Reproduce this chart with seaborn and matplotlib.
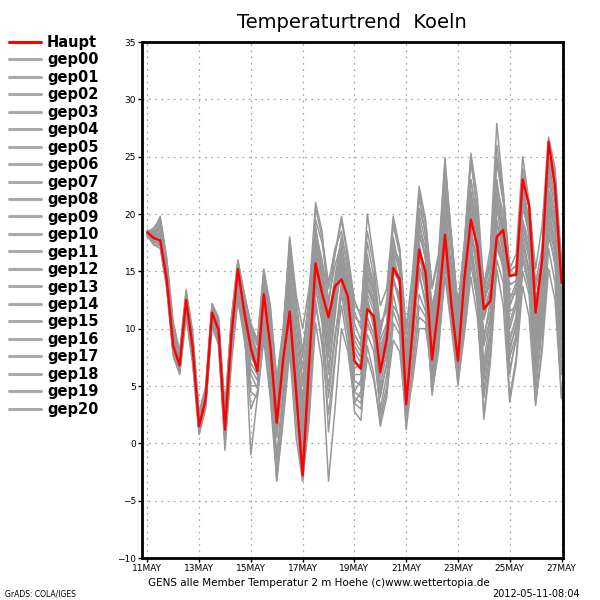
import numpy as np
import pandas as pd
import matplotlib
matplotlib.use("Agg")
import matplotlib.pyplot as plt
from matplotlib.lines import Line2D
import seaborn as sns

# ========== data: 6-hourly steps from 11MAY 00Z to 27MAY 00Z ==========
steps = np.arange(65) * 0.25

haupt = [18.4, 17.9, 17.7, 14.3, 8.5, 6.8, 12.5, 8.4, 1.5, 3.8,
         11.4, 9.9, 1.2, 9.4, 15.2, 11.4, 8.3, 6.3, 13.0, 8.5,
         1.8, 7.3, 11.5, 4.5, -2.8, 6.9, 15.7, 13.1, 11.0, 13.7,
         14.3, 12.8, 7.2, 6.5, 11.7, 11.1, 6.2, 9.1, 15.3, 14.3,
         3.4, 9.9, 16.9, 14.9, 7.3, 12.0, 18.2, 12.0, 7.2, 14.4,
         19.5, 17.2, 11.7, 12.4, 18.0, 18.6, 14.6, 14.7, 23.0, 20.7,
         11.4, 16.0, 26.3, 22.4, 14.0]

gep00 = [18.3, 18.0, 18.2, 14.6, 8.8, 6.9, 12.3, 8.6, 1.8, 4.0,
         11.2, 9.8, 1.5, 9.0, 14.8, 11.0, 7.9, 6.5, 12.8, 8.2,
         2.4, 7.0, 12.0, 5.2, -1.5, 7.5, 16.3, 13.5, 10.2, 13.0,
         15.0, 12.1, 6.5, 7.0, 12.5, 10.5, 5.8, 9.5, 16.0, 13.8,
         4.0, 10.5, 17.5, 14.2, 6.8, 12.5, 19.0, 12.8, 6.5, 13.8,
         20.2, 16.5, 10.8, 13.0, 19.0, 17.9, 13.8, 14.2, 22.0, 19.5,
         10.5, 15.2, 24.8, 21.0, 13.2]
gep01 = [18.2, 18.4, 19.0, 15.2, 9.6, 7.2, 12.9, 9.0, 2.2, 4.4,
         11.8, 10.3, 2.0, 10.2, 15.8, 12.5, 9.5, 7.5, 14.5, 10.8,
         4.5, 9.0, 15.5, 9.5, 5.0, 10.5, 18.5, 16.0, 12.5, 15.5,
         17.5, 13.0, 8.5, 7.5, 14.0, 12.0, 7.0, 10.5, 17.5, 15.5,
         6.5, 11.5, 19.5, 16.0, 9.5, 13.5, 21.0, 15.0, 9.0, 14.5,
         21.5, 18.5, 12.5, 14.0, 22.5, 20.0, 12.0, 13.5, 21.0, 18.0,
         9.5, 14.5, 23.0, 19.5, 11.0]
gep02 = [18.5, 17.6, 17.3, 13.8, 8.0, 6.3, 11.6, 7.8, 1.0, 3.4,
         10.8, 9.2, 0.2, 7.8, 13.2, 9.5, 3.0, 4.5, 10.5, 5.5,
         -1.5, 4.0, 8.5, 2.0, -3.2, 3.5, 12.0, 9.0, 5.0, 9.5,
         13.0, 9.5, 4.0, 3.5, 9.5, 8.0, 3.0, 6.0, 11.5, 10.0,
         2.0, 7.5, 13.0, 11.5, 5.0, 9.0, 15.5, 10.5, 5.5, 10.0,
         16.0, 14.0, 6.5, 9.5, 17.0, 15.5, 8.0, 10.5, 18.5, 16.0,
         7.0, 11.0, 19.5, 17.0, 8.0]
gep03 = [18.4, 18.8, 19.6, 16.0, 10.4, 7.8, 13.2, 9.6, 2.6, 4.8,
         12.0, 10.8, 2.6, 10.6, 15.6, 13.0, 10.0, 8.5, 14.2, 11.5,
         5.2, 9.5, 17.8, 12.5, 8.0, 12.5, 19.5, 17.5, 13.5, 16.5,
         19.5, 16.0, 11.5, 10.0, 17.5, 14.5, 9.5, 12.5, 19.0, 16.5,
         8.5, 13.0, 21.5, 18.0, 11.5, 15.0, 23.5, 17.0, 10.5, 16.0,
         23.0, 19.0, 13.0, 16.0, 24.5, 21.0, 15.0, 15.5, 23.5, 20.5,
         14.0, 17.0, 25.0, 22.5, 15.5]
gep04 = [18.1, 17.5, 18.5, 14.0, 8.2, 6.5, 12.0, 8.0, 1.3, 3.6,
         11.0, 9.5, 1.0, 8.5, 14.0, 10.5, 6.5, 5.5, 11.5, 7.0,
         0.5, 5.5, 10.5, 3.5, -2.0, 5.0, 14.5, 12.0, 8.5, 12.5,
         16.5, 14.0, 9.0, 8.0, 15.5, 13.5, 8.0, 10.0, 18.0, 15.0,
         7.5, 10.0, 14.5, 12.5, 4.5, 8.0, 16.0, 13.0, 8.0, 12.0,
         18.0, 15.5, 9.5, 11.5, 20.5, 17.0, 9.0, 11.0, 19.0, 17.0,
         8.5, 13.0, 22.0, 20.0, 12.0]
gep05 = [18.6, 18.2, 18.8, 15.0, 9.2, 7.0, 12.6, 8.8, 1.6, 3.9,
         11.5, 10.0, 1.6, 9.6, 15.0, 11.8, 8.8, 6.8, 13.5, 9.5,
         3.0, 6.5, 13.0, 6.0, 0.5, 6.0, 15.0, 11.0, 4.0, 9.0,
         14.0, 10.0, 2.8, 2.0, 8.5, 6.0, 1.5, 4.0, 10.5, 9.5,
         1.2, 6.0, 12.0, 11.0, 6.5, 11.5, 17.5, 13.5, 8.5, 13.0,
         17.0, 12.0, 2.5, 7.5, 16.0, 14.0, 4.0, 7.5, 15.0, 13.0,
         3.5, 8.5, 17.0, 14.0, 4.0]
gep06 = [18.3, 17.8, 17.8, 14.5, 8.6, 6.6, 12.2, 8.2, 1.2, 3.5,
         11.6, 10.2, 2.2, 10.8, 15.9, 12.8, 9.8, 7.8, 14.8, 11.0,
         4.0, 8.5, 16.5, 11.0, 6.5, 11.5, 20.5, 18.0, 14.0, 17.0,
         18.5, 15.0, 10.5, 9.0, 16.5, 13.0, 7.5, 9.5, 14.5, 12.5,
         5.5, 9.0, 15.5, 13.5, 8.5, 14.0, 22.0, 16.5, 11.0, 17.0,
         24.5, 20.5, 12.5, 15.0, 25.0, 21.5, 15.0, 15.5, 21.5, 19.0,
         12.5, 15.5, 22.0, 19.0, 10.5]
gep07 = [18.2, 17.4, 17.2, 13.6, 7.8, 6.1, 11.2, 7.2, 0.8, 3.2,
         10.5, 9.0, 0.5, 8.2, 13.5, 10.0, 5.0, 5.0, 11.0, 6.0,
         -3.2, 2.5, 9.5, 3.0, -0.5, 4.5, 12.5, 8.5, 2.5, 7.5,
         12.0, 8.5, 4.5, 5.5, 13.0, 11.5, 5.0, 8.0, 15.0, 14.0,
         3.0, 8.5, 16.0, 15.0, 8.0, 13.0, 19.5, 14.0, 7.0, 13.5,
         19.0, 14.5, 7.0, 11.0, 19.5, 16.5, 8.5, 10.0, 17.0, 15.0,
         6.0, 12.0, 20.5, 17.5, 7.5]
gep08 = [18.5, 18.6, 19.4, 15.6, 10.0, 7.6, 13.0, 9.4, 2.4, 4.6,
         12.0, 10.6, 2.4, 10.4, 15.4, 13.0, 10.2, 8.8, 15.0, 12.0,
         5.5, 10.0, 18.0, 13.0, 10.0, 13.5, 19.0, 15.0, 9.5, 14.0,
         17.0, 14.5, 11.0, 10.5, 16.0, 14.0, 10.5, 11.5, 17.0, 15.0,
         8.0, 12.5, 20.0, 17.5, 12.0, 14.5, 21.5, 17.0, 12.0, 16.5,
         22.0, 18.5, 13.5, 15.5, 22.0, 18.5, 13.0, 13.0, 19.5, 17.5,
         12.0, 14.5, 21.0, 18.5, 13.0]
gep09 = [18.0, 17.7, 17.6, 14.2, 8.4, 6.4, 11.8, 7.6, 1.1, 3.3,
         10.9, 9.4, 0.8, 8.0, 12.8, 9.8, 7.0, 6.0, 12.0, 7.5,
         1.0, 6.0, 14.0, 8.0, 2.0, 8.0, 17.0, 14.0, 9.0, 12.0,
         15.5, 12.5, 5.5, 5.0, 12.0, 11.0, 6.5, 7.5, 13.0, 10.5,
         2.5, 7.0, 11.0, 10.5, 5.5, 10.5, 18.5, 15.5, 10.0, 15.0,
         21.0, 17.0, 11.0, 13.5, 21.0, 18.0, 11.5, 12.0, 20.5, 18.5,
         9.0, 14.0, 23.5, 20.5, 10.0]
gep10 = [18.4, 18.1, 18.4, 14.8, 9.0, 7.1, 12.8, 8.9, 1.9, 4.1,
         11.3, 9.7, 1.3, 9.2, 14.6, 11.2, 8.6, 6.2, 13.8, 9.0,
         2.8, 7.5, 12.5, 4.0, -3.0, 2.5, 13.5, 10.5, 1.0, 7.0,
         13.5, 11.5, 7.0, 6.5, 11.0, 9.5, 4.0, 7.0, 14.0, 13.0,
         3.5, 10.0, 18.0, 16.5, 10.5, 14.0, 20.0, 14.5, 6.0, 12.0,
         18.5, 16.0, 8.5, 11.0, 18.5, 16.0, 6.0, 9.5, 17.5, 14.5,
         5.0, 10.5, 18.5, 15.5, 6.5]
gep11 = [18.2, 17.9, 18.0, 14.4, 8.7, 6.7, 12.4, 8.3, 1.4, 3.7,
         11.4, 10.0, 1.8, 9.8, 15.3, 12.0, 9.0, 7.0, 14.0, 10.0,
         3.5, 8.0, 14.5, 7.0, 0.0, 7.0, 16.0, 12.5, 6.0, 11.0,
         16.0, 13.5, 8.0, 7.0, 14.5, 12.5, 6.0, 8.5, 16.5, 15.5,
         4.5, 11.0, 18.5, 16.0, 7.5, 11.0, 17.0, 12.5, 5.0, 11.0,
         16.5, 13.0, 4.5, 9.0, 19.0, 17.5, 10.5, 12.5, 21.0, 18.5,
         7.5, 12.5, 21.5, 18.5, 9.0]
gep12 = [18.5, 18.3, 19.2, 15.4, 9.8, 7.4, 13.1, 9.2, 2.1, 4.3,
         11.9, 10.5, 2.8, 10.9, 15.7, 12.2, 8.0, 7.2, 12.5, 8.5,
         1.5, 6.8, 13.5, 7.5, 3.5, 9.5, 18.0, 15.5, 11.0, 14.5,
         18.0, 15.5, 12.0, 11.5, 18.5, 15.5, 10.0, 12.0, 19.5, 17.0,
         9.5, 14.0, 22.0, 19.0, 13.5, 16.0, 24.5, 18.0, 12.0, 17.5,
         25.0, 20.0, 12.0, 14.5, 23.0, 19.0, 12.5, 14.0, 24.0, 21.0,
         11.0, 16.5, 26.0, 23.5, 14.5]
gep13 = [18.3, 17.6, 17.5, 14.0, 8.3, 6.2, 11.5, 7.4, 0.9, 3.1,
         10.6, 9.1, -0.6, 7.0, 12.5, 9.0, 4.5, 4.0, 9.5, 4.5,
         -2.5, 3.0, 10.0, 5.0, 1.5, 7.5, 15.5, 12.0, 6.5, 11.5,
         17.0, 12.0, 4.5, 4.0, 10.5, 9.0, 2.5, 5.0, 12.0, 11.0,
         4.5, 9.5, 17.0, 13.0, 4.2, 8.5, 14.5, 10.0, 5.2, 9.5,
         14.5, 11.0, 4.0, 8.0, 17.5, 15.5, 7.5, 9.5, 16.0, 13.5,
         4.5, 10.0, 18.0, 16.0, 6.0]
gep14 = [18.1, 17.3, 17.0, 13.5, 7.6, 6.0, 11.0, 7.0, 0.8, 3.0,
         10.2, 8.6, 0.0, 7.5, 13.0, 9.5, 6.0, 4.8, 10.0, 6.5,
         -1.0, 4.5, 11.0, 6.5, 2.5, 8.5, 16.5, 13.0, 8.0, 12.0,
         15.0, 11.0, 3.5, 4.5, 12.5, 10.0, 4.5, 7.0, 15.5, 14.5,
         6.0, 12.0, 20.5, 18.5, 11.0, 15.5, 24.0, 18.0, 11.5, 16.5,
         23.0, 19.5, 14.0, 16.0, 26.0, 22.0, 14.5, 15.0, 22.5, 19.5,
         13.5, 16.0, 24.0, 21.5, 14.5]
gep15 = [18.4, 18.5, 19.8, 16.2, 10.6, 8.0, 13.4, 9.8, 2.7, 4.9,
         12.2, 11.0, 3.0, 11.0, 16.0, 13.0, 10.5, 9.0, 15.2, 12.0,
         5.5, 10.0, 17.0, 12.0, 7.5, 13.0, 21.0, 18.5, 12.0, 16.5,
         19.8, 16.5, 12.5, 11.0, 20.0, 16.0, 12.0, 13.5, 19.8, 17.0,
         10.0, 15.0, 22.4, 19.5, 13.7, 16.5, 24.9, 17.5, 9.5, 14.0,
         20.0, 16.5, 9.0, 12.5, 21.5, 18.0, 10.0, 12.0, 19.0, 16.5,
         8.0, 13.0, 20.0, 17.5, 9.5]
gep16 = [18.2, 18.2, 18.6, 14.9, 9.4, 7.3, 12.7, 8.7, 1.7, 4.0,
         11.7, 10.4, 2.5, 10.0, 14.2, 10.8, 7.5, 6.6, 12.2, 8.0,
         2.0, 7.0, 12.8, 6.5, 1.0, 6.5, 14.0, 11.5, 7.5, 13.5,
         17.5, 14.0, 9.5, 8.5, 15.0, 13.0, 8.5, 10.0, 17.0, 16.0,
         7.0, 12.0, 19.0, 17.0, 10.0, 14.5, 22.5, 18.0, 11.5, 17.5,
         25.3, 21.5, 13.7, 17.0, 27.9, 22.0, 15.2, 16.5, 25.0, 21.0,
         15.2, 19.0, 26.7, 24.0, 16.0]
gep17 = [18.0, 17.8, 18.1, 14.1, 8.1, 6.6, 12.1, 8.1, 1.3, 3.5,
         11.1, 9.6, 1.1, 8.8, 14.4, 11.5, 8.5, 6.0, 12.6, 8.8,
         2.5, 7.8, 13.8, 8.5, 4.0, 9.0, 17.5, 14.5, 10.5, 14.0,
         16.0, 13.0, 8.5, 7.5, 14.5, 13.5, 9.0, 10.5, 16.5, 14.0,
         5.0, 9.5, 16.5, 14.0, 6.0, 10.0, 17.5, 13.0, 7.5, 12.5,
         17.5, 13.5, 5.5, 9.5, 18.0, 15.0, 6.5, 9.0, 16.5, 14.0,
         6.5, 11.5, 19.0, 16.5, 9.5]
gep18 = [18.3, 18.3, 18.9, 15.3, 9.5, 7.5, 12.9, 9.1, 2.3, 4.5,
         11.8, 10.1, 2.0, 10.0, 15.5, 12.5, 9.2, 8.0, 14.0, 10.5,
         3.8, 8.5, 15.0, 10.5, 5.5, 10.0, 17.5, 15.0, 11.5, 13.0,
         14.5, 11.5, 6.0, 6.0, 13.5, 12.0, 7.5, 9.0, 14.5, 12.0,
         4.0, 9.0, 15.0, 12.0, 5.5, 9.5, 16.5, 11.0, 5.5, 10.5,
         15.5, 12.5, 6.0, 10.0, 18.0, 15.5, 9.0, 11.0, 18.0, 15.0,
         7.0, 12.0, 20.5, 17.5, 10.0]
gep19 = [18.5, 17.9, 17.4, 13.9, 7.9, 6.3, 11.4, 7.5, 1.0, 3.3,
         10.4, 8.8, 0.3, 8.0, 13.5, 10.5, -1.0, 4.0, 9.0, 4.0,
         -3.3, 2.0, 8.0, 0.5, -3.3, 2.0, 10.5, 7.0, -3.3, 3.0,
         10.0, 8.0, 3.5, 3.0, 7.5, 5.5, 2.0, 4.5, 9.0, 8.0,
         2.5, 5.5, 10.0, 10.0, 6.5, 10.5, 16.0, 12.0, 7.0, 11.5,
         17.5, 13.0, 2.1, 7.0, 15.2, 12.0, 3.6, 7.0, 13.7, 11.0,
         3.3, 8.0, 15.2, 12.5, 3.9]
gep20 = [18.2, 18.0, 18.3, 14.7, 9.1, 7.0, 12.6, 8.5, 1.5, 3.8,
         11.5, 10.1, 1.7, 9.5, 14.9, 11.6, 8.8, 6.9, 13.2, 9.2,
         3.2, 7.2, 13.2, 8.0, 3.0, 8.5, 16.0, 13.0, 9.5, 13.0,
         15.5, 13.5, 9.5, 8.5, 13.5, 12.5, 7.0, 9.5, 15.5, 14.0,
         5.5, 10.5, 17.0, 15.0, 8.5, 12.5, 19.5, 14.5, 9.0, 14.5,
         21.0, 18.0, 11.5, 13.5, 21.5, 19.0, 12.0, 13.5, 22.0, 19.0,
         10.0, 15.0, 24.5, 21.5, 12.5]

member_names = ["gep%02d" % i for i in range(21)]
member_vals = [gep00, gep01, gep02, gep03, gep04, gep05, gep06, gep07, gep08, gep09, gep10,
               gep11, gep12, gep13, gep14, gep15, gep16, gep17, gep18, gep19, gep20]

tick_days = [0, 2, 4, 6, 8, 10, 12, 14, 16]
tick_labels = ["11MAY", "13MAY", "15MAY", "17MAY", "19MAY", "21MAY", "23MAY", "25MAY", "27MAY"]

# ========== long table for seaborn ==========
df = pd.concat([pd.DataFrame({"day": steps, "temp": v, "member": n})
                for n, v in zip(member_names, member_vals)], ignore_index=True)

sns.set_style("white")
plt.rcParams['font.family'] = ['DejaVu Sans']
plt.rcParams['text.color'] = 'black'

fig = plt.figure(figsize=(6, 6), dpi=100)
ax = fig.add_axes([0.236, 0.07, 0.702, 0.86])

gray = "#989898"
sns.lineplot(data=df, x="day", y="temp", hue="member", units="member",
             palette={n: gray for n in member_names}, estimator=None,
             legend=False, linewidth=1.1, ax=ax)
sns.lineplot(x=steps, y=haupt, color="red", linewidth=1.7, ax=ax)

ax.set_xlim(-0.22, 16.05)
ax.set_ylim(-10, 35)
ax.set_xticks(tick_days)
ax.set_xticklabels(tick_labels)
ax.set_yticks(range(-10, 36, 5))
ax.tick_params(axis="both", labelsize=6.5, length=3, width=1, direction="out", pad=1,
               bottom=True, left=True, colors="black")
ax.set_xlabel("")
ax.set_ylabel("")
ax.grid(True, color="#aaaaaa", linestyle=(0, (1.5, 3.5)), linewidth=0.9)
for s in ax.spines.values():
    s.set_color("black")
    s.set_linewidth(2.0)

fig.text(0.587, 0.962, "Temperaturtrend  Koeln", ha="center", va="center", fontsize=14)
fig.text(0.532, 0.028, "GENS alle Member Temperatur 2 m Hoehe (c)www.wettertopia.de",
         ha="center", va="center", fontsize=7.5)
fig.text(0.008, 0.01, "GrADS: COLA/IGES", ha="left", va="center", fontsize=5.5)
fig.text(0.967, 0.01, "2012-05-11-08:04", ha="right", va="center", fontsize=7)

handles = [Line2D([], [], color="red", linewidth=2.2)]
handles += [Line2D([], [], color="#aaaaaa", linewidth=2.2) for _ in member_names]
leg = fig.legend(handles, ["Haupt"] + member_names, loc="upper left",
                 bbox_to_anchor=(0.015, 0.942), frameon=False, borderpad=0, borderaxespad=0,
                 prop={"weight": "bold", "size": 10.5}, handlelength=2.2, handletextpad=0.4,
                 labelspacing=0.17)
for t in leg.get_texts():
    t.set_color("black")

fig.savefig("out.png", dpi=100)
